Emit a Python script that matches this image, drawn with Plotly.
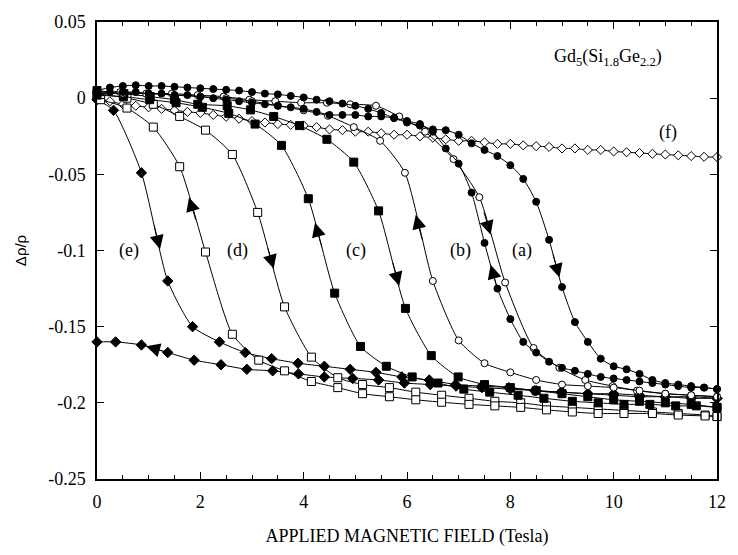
import numpy as np
import plotly.graph_objects as go

# ---------------- data ----------------
# (a) filled circles, 0.25 T steps
xa = [i * 0.25 for i in range(49)]
ya_up = [0.005, 0.007, 0.008, 0.0085, 0.008, 0.008, 0.0075, 0.007, 0.0065, 0.006, 0.0055, 0.005,
         0.004, 0.003, 0.0025, 0.0015, 0.0005, -0.001, -0.002, -0.0035, -0.005, -0.007, -0.0097, -0.013,
         -0.016, -0.018, -0.0205, -0.021, -0.024, -0.0296, -0.034, -0.038, -0.044, -0.053, -0.068, -0.093,
         -0.124, -0.147, -0.160, -0.171, -0.176, -0.178, -0.181, -0.185, -0.187, -0.188, -0.189, -0.190, -0.191]
ya_down = [0.003, 0.004, 0.004, 0.004, 0.003, 0.003, 0.002, 0.002, 0.001, 0.0, -0.001, -0.002,
           -0.003, -0.004, -0.005, -0.006, -0.007, -0.009, -0.011, -0.011, -0.011, -0.012, -0.012, -0.013,
           -0.015, -0.017, -0.022, -0.033, -0.043, -0.062, -0.095, -0.125, -0.145, -0.160, -0.167, -0.173,
           -0.177, -0.179, -0.181, -0.183, -0.184, -0.185, -0.186, -0.187, -0.188, -0.189, -0.190, -0.190, -0.191]

# (b) open circles
xb_up = [0.0, 0.45, 0.95, 1.45, 1.95, 2.45, 2.95, 3.45, 3.95, 4.45, 4.9, 5.4, 5.85, 6.35, 6.9, 7.4,
         7.9, 8.45, 8.95, 9.45, 9.98, 10.45, 11.0, 11.5, 12.0]
yb_up = [0.004, 0.004, 0.003, 0.003, 0.002, 0.001, -0.001, -0.002, -0.003, -0.003, -0.004, -0.005,
         -0.012, -0.022, -0.040, -0.065, -0.121, -0.164, -0.177, -0.185, -0.189, -0.192, -0.194, -0.195, -0.196]
xb_down = [0.0, 0.5, 1.0, 1.5, 2.0, 2.5, 3.0, 3.5, 4.0, 4.47, 4.97, 5.48, 5.96, 6.5, 7.0, 7.5,
           8.0, 8.5, 9.0, 9.5, 10.0, 10.5, 11.0, 11.5, 12.0]
yb_down = [0.003, 0.003, 0.003, 0.002, 0.001, 0.0, -0.002, -0.005, -0.008, -0.0116, -0.019, -0.028,
           -0.049, -0.120, -0.159, -0.174, -0.180, -0.185, -0.188, -0.189, -0.190, -0.192, -0.194, -0.195, -0.196]

# (c) filled squares
xc_up = [0.0, 0.52, 1.03, 1.5, 1.95, 2.52, 2.97, 3.42, 3.92, 4.45, 4.97, 5.45, 5.97, 6.47, 6.99, 7.5,
         8.0, 8.5, 9.0, 9.5, 10.0, 10.5, 11.0, 11.5, 12.0]
yc_up = [0.005, 0.003, 0.001, -0.001, -0.004, -0.005, -0.0077, -0.012, -0.018, -0.027, -0.042, -0.074,
         -0.138, -0.169, -0.183, -0.188, -0.190, -0.192, -0.194, -0.196, -0.198, -0.199, -0.200, -0.201, -0.203]
xc_down = [0.0, 0.51, 1.02, 1.53, 2.04, 2.55, 3.06, 3.57, 4.09, 4.6, 5.1, 5.6, 6.1, 6.6, 7.1, 7.6,
           8.15, 8.65, 9.2, 9.7, 10.2, 10.7, 11.2, 11.6, 12.0]
yc_down = [0.002, 0.001, -0.001, -0.003, -0.006, -0.010, -0.017, -0.031, -0.066, -0.128, -0.163, -0.176,
           -0.183, -0.187, -0.191, -0.193, -0.195, -0.197, -0.199, -0.200, -0.201, -0.201, -0.202, -0.202, -0.203]

# (d) open squares
xd_up = [0.0, 0.58, 1.09, 1.6, 2.1, 2.62, 3.11, 3.63, 4.15, 4.66, 5.14, 5.66, 6.17, 6.67, 7.2, 7.7,
         8.2, 8.7, 9.2, 9.7, 10.2, 10.75, 11.25, 11.77, 12.0]
yd_up = [0.003, 0.0, -0.004, -0.012, -0.021, -0.037, -0.075, -0.137, -0.170, -0.1835, -0.188, -0.190,
         -0.193, -0.195, -0.197, -0.199, -0.200, -0.202, -0.203, -0.204, -0.205, -0.206, -0.207, -0.208, -0.209]
xd_down = [0.07, 0.58, 1.09, 1.6, 2.1, 2.62, 3.13, 3.63, 4.15, 4.66, 5.14, 5.66, 6.17, 6.67, 7.2, 7.7,
           8.2, 8.7, 9.2, 9.7, 10.2, 10.75, 11.25, 11.77, 12.0]
yd_down = [-0.001, -0.0065, -0.019, -0.045, -0.101, -0.155, -0.172, -0.179, -0.186, -0.190, -0.194, -0.196,
           -0.198, -0.1996, -0.201, -0.202, -0.203, -0.2046, -0.206, -0.207, -0.207, -0.207, -0.208, -0.2086, -0.209]

# (e) filled diamonds
xe_up = [0.0, 0.32, 0.86, 1.37, 1.85, 2.37, 2.87, 3.38, 3.89, 4.4, 4.9, 5.4, 5.9, 6.43, 6.94, 7.45,
         7.97, 8.47, 8.98, 9.5, 10.0, 10.5, 11.0, 11.5, 12.0]
ye_up = [-0.001, -0.008, -0.049, -0.120, -0.150, -0.160, -0.167, -0.171, -0.174, -0.176, -0.178, -0.180,
         -0.183, -0.185, -0.188, -0.189, -0.190, -0.192, -0.193, -0.194, -0.194, -0.195, -0.196, -0.196, -0.197]
xe_down = [0.0, 0.36, 0.86, 1.37, 1.88, 2.4, 2.9, 3.4, 3.9, 4.4, 4.95, 5.45, 5.95, 6.45, 6.95, 7.45,
           8.0, 8.5, 9.0, 9.5, 10.0, 10.5, 11.0, 11.5, 12.0]
ye_down = [-0.160, -0.160, -0.162, -0.167, -0.172, -0.175, -0.178, -0.179, -0.181, -0.183, -0.184, -0.185,
           -0.187, -0.188, -0.189, -0.190, -0.191, -0.192, -0.193, -0.194, -0.195, -0.196, -0.196, -0.197, -0.197]

# (f) open diamonds, 0.25 T steps
xf = [i * 0.25 for i in range(49)]
yf = [0.0, -0.002, -0.004, -0.005, -0.006, -0.007, -0.008, -0.009, -0.0097, -0.011, -0.0122, -0.0135,
      -0.015, -0.016, -0.017, -0.0175, -0.018, -0.019, -0.0205, -0.021, -0.022, -0.022, -0.023, -0.024,
      -0.024, -0.025, -0.026, -0.027, -0.028, -0.028, -0.029, -0.030, -0.030, -0.031, -0.0315, -0.032,
      -0.033, -0.033, -0.034, -0.034, -0.035, -0.0355, -0.036, -0.0365, -0.037, -0.0375, -0.038, -0.0385, -0.0387]

y_tickvals = [0.05, 0.0, -0.05, -0.1, -0.15, -0.2, -0.25]
y_ticktext = ["0.05", "0", "-0.05", "-0.1", "-0.15", "-0.2", "-0.25"]
x_tickvals = [0, 2, 4, 6, 8, 10, 12]

SERIF = "Liberation Serif"
SANS = "Liberation Sans"

fig = go.Figure()

def add(xs, ys, symbol, filled, size):
    fig.add_trace(go.Scatter(
        x=xs, y=ys, mode="lines+markers", cliponaxis=False,
        line=dict(color="black", width=1, shape="spline", smoothing=0.6),
        marker=dict(symbol=symbol, size=size,
                    color="black" if filled else "white",
                    line=dict(color="black", width=1)),
        showlegend=False, hoverinfo="skip"))

add(xf, yf, "diamond", False, 7)
add(xe_up, ye_up, "diamond", True, 8)
add(xe_down, ye_down, "diamond", True, 8)
add(xd_up, yd_up, "square", False, 8)
add(xd_down, yd_down, "square", False, 8)
add(xc_up, yc_up, "square", True, 8)
add(xc_down, yc_down, "square", True, 8)
add(xb_up, yb_up, "circle", False, 7)
add(xb_down, yb_down, "circle", False, 7)
add(xa, ya_down, "circle", True, 7)
add(xa, ya_up, "circle", True, 7)

annotations = []

def arrow(xs, ys, xhead, xtail):
    yh = float(np.interp(xhead, xs, ys))
    yt = float(np.interp(xtail, xs, ys))
    annotations.append(dict(x=xhead, y=yh, ax=xtail, ay=yt, xref="x", yref="y",
                            axref="x", ayref="y", showarrow=True, arrowhead=2,
                            arrowsize=2.8, arrowwidth=1, arrowcolor="black", text="",
                            standoff=0, startstandoff=0))

arrow(xe_up, ye_up, 1.22, 1.10)
arrow(xe_down, ye_down, 0.95, 1.35)
arrow(xd_down, yd_down, 1.78, 1.92)
arrow(xd_up, yd_up, 3.42, 3.30)
arrow(xc_down, yc_down, 4.22, 4.36)
arrow(xc_up, yc_up, 5.85, 5.72)
arrow(xb_down, yb_down, 6.17, 6.30)
arrow(xb_up, yb_up, 7.62, 7.48)
arrow(xa, ya_down, 7.62, 7.75)
arrow(xa, ya_up, 8.95, 8.82)

def label(txt, x, y, size=18, anchor="center"):
    annotations.append(dict(x=x, y=y, xref="x", yref="y", text=txt, showarrow=False,
                            xanchor=anchor, yanchor="middle",
                            font=dict(family=SERIF, size=size, color="black")))

label("(e)", 0.62, -0.100)
label("(d)", 2.72, -0.100)
label("(c)", 5.02, -0.100)
label("(b)", 7.03, -0.100)
label("(a)", 8.22, -0.100)
label("(f)", 11.05, -0.0225)
label("Gd<sub>5</sub>(Si<sub>1.8</sub>Ge<sub>2.2</sub>)", 8.8, 0.027, size=18, anchor="left")

axis_common = dict(showline=True, linecolor="black", linewidth=1.5, mirror="ticks",
                   ticks="inside", ticklen=7, tickwidth=1, tickcolor="black",
                   showgrid=False, zeroline=False)

fig.update_layout(
    width=738, height=555,
    margin=dict(l=97, r=13, t=13, b=76),
    paper_bgcolor="white", plot_bgcolor="white",
    annotations=annotations,
    font=dict(family=SERIF, size=17, color="black"),
    xaxis=dict(range=[0, 12], tickvals=x_tickvals, ticktext=[str(v) for v in x_tickvals],
               tickfont=dict(family=SERIF, size=18, color="black"),
               ticklabelstandoff=6,
               minor=dict(ticks="inside", ticklen=4, dtick=0.5, tickcolor="black"),
               title=dict(text="APPLIED MAGNETIC FIELD (Tesla)",
                          font=dict(family=SERIF, size=18, color="black"), standoff=18),
               **axis_common),
    yaxis=dict(range=[-0.25, 0.05], tickvals=y_tickvals, ticktext=y_ticktext,
               tickfont=dict(family=SERIF, size=18, color="black"),
               ticklabelstandoff=6,
               title=dict(text="Δρ/ρ", font=dict(family=SANS, size=15, color="black"), standoff=18),
               **axis_common),
)

fig.write_html("out.html", config={"displayModeBar": False},
               post_script="document.body.style.margin='0';document.body.style.overflow='hidden';")
